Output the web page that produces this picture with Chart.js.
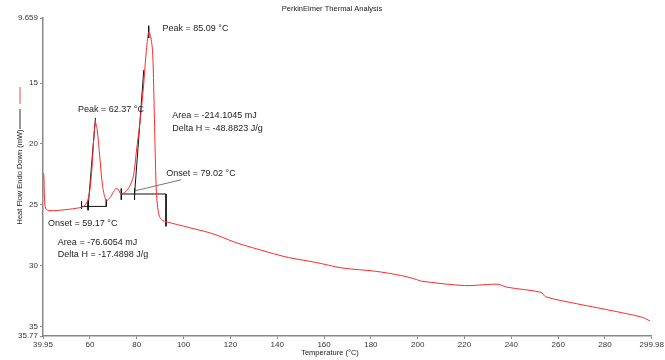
<!DOCTYPE html>
<html>
<head>
<meta charset="utf-8">
<script src="https://cdn.jsdelivr.net/npm/chart.js@4"></script>
<style>
  html, body { margin: 0; padding: 0; background: #fff; }
  #wrap { width: 665px; height: 360px; }
</style>
</head>
<body>
<div id="wrap"><canvas id="myChart" width="665" height="360"></canvas></div>
<script>
// DSC trace (temperature in °C, heat flow in mW)
var temps = [39.95, 40.3, 40.6, 41.2, 42.92, 49.3, 55.7, 57.8, 59.5, 60.8, 61.6, 62.35, 63.1, 64.2, 65.45, 67.0,
  68.85, 70.97, 72.25, 73.1, 74.8, 76.9, 78.6, 79.77, 81.47, 82.87, 84.0, 85.1, 86.05, 86.8, 87.55, 88.27,
  88.8, 89.67, 90.95, 92.52, 102.4, 110.9, 116.0, 122.27, 136.4, 144.9, 156.3, 167.6, 181.8, 193.1, 199.45,
  201.6, 220.0, 229.9, 234.2, 238.4, 252.6, 254.7, 268.2, 276.7, 290.8, 296.5, 299.3];
var heatFlow = [22.36, 22.5, 24.5, 25.35, 25.48, 25.40, 25.23, 25.07, 24.33, 22.12, 19.66, 18.27, 18.84, 21.05, 23.51, 24.66,
  24.33, 23.68, 23.76, 24.09, 24.0, 23.51, 22.61, 20.73, 18.02, 15.31, 12.53, 10.81, 11.3, 12.53, 18.02, 23.51,
  24.99, 25.95, 26.26, 26.38, 26.87, 27.28, 27.62, 28.10, 28.90, 29.33, 29.72, 30.18, 30.45, 30.81, 31.13,
  31.27, 31.63, 31.54, 31.52, 31.77, 32.18, 32.55, 33.13, 33.45, 34.0, 34.27, 34.55];

var xTicks = [39.95, 60, 80, 100, 120, 140, 160, 180, 200, 220, 240, 260, 280, 299.98];
var yTicks = [9.659, 15, 20, 25, 30, 35, 35.77];

// analysis marks: [t1, hf1, t2, hf2]
var analysisLines = [
  [56.4, 25.13, 67.0, 25.13],
  [56.4, 24.72, 56.4, 25.32],
  [59.2, 24.72, 59.2, 25.45],
  [67.0, 24.58, 67.0, 25.13],
  [59.2, 25.23, 62.35, 17.86],
  [73.4, 24.11, 92.5, 24.11],
  [92.5, 24.11, 92.5, 26.76],
  [73.4, 23.67, 73.4, 24.58],
  [79.05, 23.67, 79.05, 24.58],
  [79.05, 24.17, 83.0, 13.92],
  [85.09, 10.3, 85.09, 11.3]
];
var leaderLine = [79.47, 23.84, 99.0, 22.94];

// labels: [text, temperature, heat flow]
var notes = [
  ["Peak = 85.09 °C", 91.0, 10.5],
  ["Peak = 62.37 °C", 54.9, 17.2],
  ["Area = -214.1045 mJ", 95.2, 17.7],
  ["Delta H = -48.8823 J/g", 95.2, 18.7],
  ["Onset = 79.02 °C", 92.6, 22.4],
  ["Onset = 59.17 °C", 42.1, 26.5],
  ["Area = -76.6054 mJ", 46.3, 28.1],
  ["Delta H = -17.4898 J/g", 46.3, 29.1]
];

var trace = [];
for (var i = 0; i < temps.length; i++) {
  trace.push({x: temps[i], y: heatFlow[i]});
}

var datasets = [{
  data: trace,
  borderColor: '#ff2a2a',
  borderWidth: 1,
  pointRadius: 0,
  showLine: true,
  tension: 0.3
}];
analysisLines.forEach(function(s) {
  datasets.push({
    data: [{x: s[0], y: s[1]}, {x: s[2], y: s[3]}],
    borderColor: '#111',
    borderWidth: 1,
    pointRadius: 0,
    showLine: true
  });
});
datasets.push({
  data: [{x: leaderLine[0], y: leaderLine[1]}, {x: leaderLine[2], y: leaderLine[3]}],
  borderColor: '#777',
  borderWidth: 1,
  pointRadius: 0,
  showLine: true
});

var textPlugin = {
  id: 'texts',
  afterDraw: function(chart) {
    var c = chart.ctx, xs = chart.scales.x, ys = chart.scales.y;
    c.save();
    c.fillStyle = '#222';
    c.font = '9px "Liberation Sans", Arial, sans-serif';
    c.textBaseline = 'middle';
    c.textAlign = 'left';
    notes.forEach(function(n) {
      c.fillText(n[0], xs.getPixelForValue(n[1]), ys.getPixelForValue(n[2]));
    });
    c.font = '7.5px "Liberation Sans", Arial, sans-serif';
    c.textAlign = 'center';
    c.fillText('PerkinElmer Thermal Analysis', 332, 9);
    c.fillText('Temperature (°C)', 330, 353);
    // y title with line samples
    c.strokeStyle = '#ff8080';
    c.lineWidth = 1.5;
    c.beginPath(); c.moveTo(20, 87); c.lineTo(20, 104); c.stroke();
    c.strokeStyle = '#333';
    c.lineWidth = 1;
    c.beginPath(); c.moveTo(20, 109); c.lineTo(20, 129); c.stroke();
    c.translate(20, 177);
    c.rotate(-Math.PI / 2);
    c.fillText('Heat Flow Endo Down (mW)', 0, 0);
    c.restore();
  }
};

const ctx = document.getElementById('myChart').getContext('2d');
const myChart = new Chart(ctx, {
  type: 'scatter',
  data: { datasets: datasets },
  plugins: [textPlugin],
  options: {
    responsive: false,
    animation: false,
    layout: { padding: { top: 18, right: 10, left: 0, bottom: 0 } },
    plugins: { legend: { display: false }, tooltip: { enabled: false } },
    scales: {
      x: {
        type: 'linear',
        min: 39.95,
        max: 299.98,
        afterBuildTicks: function(s) { s.ticks = xTicks.map(function(v) { return {value: v}; }); },
        afterFit: function(s) { s.height = 24; },
        ticks: {
          autoSkip: false, maxRotation: 0, padding: 1,
          color: '#333',
          font: { family: 'Liberation Sans', size: 8 },
          callback: function(v) { return String(v); }
        },
        grid: { drawOnChartArea: false, drawTicks: true, tickLength: 3, color: '#888' },
        border: { display: true, color: '#888', width: 1.5 }
      },
      y: {
        type: 'linear',
        reverse: true,
        min: 9.659,
        max: 35.77,
        afterBuildTicks: function(s) { s.ticks = yTicks.map(function(v) { return {value: v}; }); },
        afterFit: function(s) { s.width = 43; },
        ticks: {
          autoSkip: false, padding: 2,
          color: '#333',
          font: { family: 'Liberation Sans', size: 8 },
          callback: function(v) { return String(v); }
        },
        grid: { drawOnChartArea: false, drawTicks: true, tickLength: 3, color: '#888' },
        border: { display: true, color: '#888', width: 1.5 }
      }
    }
  }
});
</script>
</body>
</html>
